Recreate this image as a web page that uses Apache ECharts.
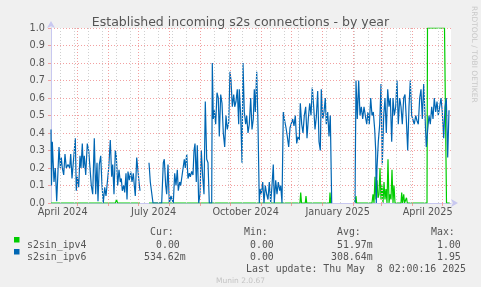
<!DOCTYPE html>
<html>
<head>
<meta charset="utf-8">
<script src="https://cdn.jsdelivr.net/npm/echarts@6/dist/echarts.min.js"></script>
<style>
  html, body { margin: 0; padding: 0; background: #f0f0f0; }
  #chart { width: 481px; height: 287px; }
</style>
</head>
<body>
<div id="chart"></div>
<script>
// x values are days counted from the left edge of the plot (Apr 4 2024 08:00)
const startMs = Date.UTC(2024, 3, 4, 8)
const dayOf = (y, m, d) => (Date.UTC(y, m - 1, d) - startMs) / 864e5

const xLabels = ['April 2024', 'July 2024', 'October 2024', 'January 2025', 'April 2025']
const xLabelDates = [[2024, 4, 16], [2024, 7, 16], [2024, 10, 16], [2025, 1, 16], [2025, 4, 16]]
const monthStarts = [[2024, 5, 1], [2024, 6, 1], [2024, 7, 1], [2024, 8, 1], [2024, 9, 1], [2024, 10, 1],
  [2024, 11, 1], [2024, 12, 1], [2025, 1, 1], [2025, 2, 1], [2025, 3, 1], [2025, 4, 1], [2025, 5, 1]]

// s2sin_ipv4 [day, value]
const ipv4Data = [
  [0, 0], [64.5, 0], [65.5, 0.02], [66.5, 0], [89, 0], [93, null], [98, 0],
  [249, 0], [249.7, 0.06], [250.5, 0], [254.3, 0], [255, 0.04], [255.7, 0],
  [278.5, 0], [279, 0.06], [279.7, 0], [280.7, 0], [292, null], [304, 0], [305, 0.04], [305.6, 0],
  [321, 0], [322, 0.05], [323, 0], [324, 0.15], [325, 0.02], [326, 0.13], [327, 0.03], [328, 0.05],
  [329, 0.2], [330, 0.02], [331, 0.1], [332, 0], [333, 0.12], [334, 0.02], [335, 0.08], [336, 0],
  [337, 0.25], [338, 0], [339, 0.05], [340, 0.02], [341, 0.19], [342, 0], [343, 0.1], [344, 0],
  [350, 0], [350.7, 0.06], [351.5, 0], [352.7, 0.05], [353.5, 0], [355.5, 0.03], [356.3, 0],
  [376, 0], [376.5, 1.0], [393.5, 1.0], [395.5, 0], [398.7, 0]
]

// s2sin_ipv6 [day, value]
const ipv6Data = [
  [0, 0.42], [0.5, 0.1], [1.3, 0.35], [2.3, 0.35], [3, 0.12], [4.3, 0.2], [5.7, 0.01], [8, 0.32],
  [9.3, 0.2], [10.3, 0.26], [11.3, 0.2], [12.7, 0.16], [14, 0.28], [15.3, 0.2], [17, 0.22], [18.7, 0.2],
  [19.7, 0.28], [21, 0.14], [24.3, 0.37], [25.3, 0.07], [26.3, 0.15], [27.7, 0.09], [29, 0.27], [30, 0.2],
  [31.3, 0.34], [32.3, 0.2], [33.3, 0.27], [34.7, 0.16], [36.3, 0.34], [37.7, 0.3], [39, 0.2], [40.3, 0.1],
  [41.7, 0.05], [43.3, 0.37], [44.7, 0.05], [46, 0.23], [47, 0.01], [48.3, 0.22], [49.7, 0.27], [51, 0.1],
  [52.3, 0], [53.7, 0.09], [55, 0.04], [56.3, 0.03], [57.7, 0.2], [59.3, 0.36], [60.7, 0.15], [61.7, 0.22],
  [63, 0.05], [64.3, 0.3], [65.3, 0.27], [66.7, 0.1], [68, 0.19], [69.3, 0.12], [70.3, 0.14], [71.3, 0.07],
  [72.7, 0.1], [73.7, 0.06], [75, 0.17], [76, 0.02], [77, 0.18], [78.3, 0.13], [79.7, 0.18], [81, 0.12],
  [82.3, 0.17], [83.3, 0.1], [84.3, 0.04], [85.7, 0.26], [86.7, 0.26], [88, 0.12], [89, 0.07], [93, null],
  [98, 0.23], [99.3, 0.12], [100.7, 0.12], [102, 0], [110.7, 0], [112.3, 0.23], [113.3, 0.25], [114.7, 0.1],
  [115.7, 0.05], [117, 0.22], [118.3, 0], [120, 0.04], [121.3, 0.03], [122.3, 0], [123.7, 0.17], [125, 0.1],
  [126.3, 0.19], [127.3, 0.07], [128.7, 0.12], [129.7, 0.1], [133.3, 0.25], [134.3, 0.2], [135.7, 0.28],
  [137, 0.14], [138.3, 0.17], [139.3, 0.15], [140.7, 0.18], [142, 0.16], [143, 0.3], [144, 0.34],
  [145.3, 0.12], [146.3, 0.33], [147.7, 0], [149, 0.05], [150.3, 0.3], [151.7, 0.15], [153, 0.05],
  [154.3, 0.58], [155.7, 0.25], [157, 0.23], [158.3, 0], [160.7, 0], [161.3, 0.8], [162.3, 0.48],
  [163.3, 0.53], [164.7, 0.45], [166, 0.63], [167.3, 0.6], [168.3, 0.38], [169.7, 0.62], [171, 0.57],
  [172.3, 0.4], [173.7, 0.32], [175, 0.5], [176.3, 0.42], [177.7, 0.46], [179, 0.75], [180, 0.7],
  [181.3, 0.55], [182.7, 0.62], [183.7, 0.55], [185, 0.58], [186.3, 0.65], [187.7, 0.45], [188.3, 0.65],
  [189.7, 0.5], [191, 0.23], [192, 0.8], [193.3, 0.52], [194.7, 0.45], [195.7, 0.5], [197, 0.4],
  [198.3, 0.45], [199.7, 0.6], [201, 0.42], [202.3, 0.48], [203.3, 0.65], [204.3, 0.52], [205.7, 0.75],
  [207, 0.45], [208.3, 0], [209, 0.08], [210.3, 0.05], [211.7, 0.12], [213, 0], [214.3, 0.1], [215.7, 0.05],
  [217, 0.02], [218.3, 0.12], [219.7, 0], [221, 0.1], [222.3, 0.22], [223.3, 0], [224.7, 0.13], [226, 0.05],
  [227.3, 0.12], [228.7, 0.07], [229.7, 0.1], [231, 0], [232.3, 0.52], [233.7, 0.47], [235, 0.43],
  [236.3, 0.38], [237.7, 0.32], [239, 0.43], [240.3, 0.44], [241.7, 0.48], [243, 0.44], [244.3, 0.5],
  [245.7, 0.34], [247, 0.38], [248.3, 0.36], [249.3, 0.57], [250.7, 0.45], [252, 0.4], [253.3, 0.5],
  [254.7, 0.55], [256, 0.37], [257.3, 0.48], [258.7, 0.57], [260, 0.5], [261.3, 0.66], [262.7, 0.55],
  [264, 0.42], [265.3, 0.49], [266.7, 0.64], [268, 0.35], [269.3, 0.3], [270.3, 0.65], [271.7, 0.48],
  [273, 0.52], [274.3, 0.6], [275.3, 0.45], [276.7, 0.52], [278, 0.38], [279.3, 0.5], [280.7, 0],
  [292, null], [304, 0], [305, 0.7], [306.3, 0.48], [307.7, 0.7], [309, 0.5], [310.3, 0.55], [311.7, 0.48],
  [313, 0.55], [314.3, 0.5], [315.7, 0.45], [317, 0.52], [318.3, 0.45], [319.7, 0.6], [321, 0.5],
  [322.3, 0.52], [323.7, 0.42], [324.7, 0.3], [325.3, 0], [326, 0.2], [327.3, 0.35], [328.7, 0.45],
  [330, 0.68], [331.3, 0.22], [332.7, 0.5], [334, 0.6], [335.3, 0.4], [336.7, 0.65], [338, 0.55],
  [339.3, 0.6], [340.7, 0.35], [342, 0.6], [343.3, 0.5], [344.7, 0.55], [346, 0.7], [347.3, 0.45],
  [348.7, 0.6], [350, 0.55], [351.3, 0.45], [352.7, 0.6], [354, 0.62], [355.3, 0.48], [356.7, 0.3],
  [358, 0.55], [359.3, 0.7], [360.7, 0.5], [362, 0.5], [363.3, 0.45], [364.7, 0.5], [366, 0.47],
  [367.3, 0.45], [368.7, 0.6], [370, 0.65], [371.3, 0.48], [372.7, 0.68], [374, 0.5], [375.3, 0.32],
  [376.7, 0.42], [378, 0.5], [379.3, 0.45], [380.7, 0.55], [382, 0.48], [383.3, 0.6], [384.7, 0.52],
  [386, 0.58], [387.3, 0.5], [388.7, 0.55], [390, 0.6], [391.3, 0.52], [392.7, 0.37], [394, 0.55],
  [395.3, 0.6], [396.7, 0.26], [398, 0.53]
]

// legend table
const legendNames = ['s2sin_ipv4', 's2sin_ipv6']
const legendColors = ['#00cc00', '#0066b3']
const curVals = ['0.00', '534.62m']
const minVals = ['0.00', '0.00']
const avgVals = ['51.97m', '308.64m']
const maxVals = ['1.00', '1.95']

const chart = echarts.init(document.getElementById('chart'))

const labelDays = xLabelDates.map(d => dayOf(...d))
const monthDays = monthStarts.map(d => dayOf(...d))
const weekDays = []
for (let d = dayOf(2024, 3, 31) + 14; d < 400; d += 14) weekDays.push(d)

const redGrid = '#f2a0a0'
const greyGrid = '#d0d0d0'
const mono = 'DejaVu Sans Mono'
const charW = 6

const vLines = [
  ...weekDays.map(d => ({ xAxis: d, lineStyle: { color: greyGrid, type: [1, 2], width: 1 } })),
  ...monthDays.map(d => ({ xAxis: d, lineStyle: { color: redGrid, type: [1, 2], width: 1 } }))
]

const txt = (x, y, s, color, font, size) => ({
  type: 'text', left: x, top: y,
  style: { text: s, fill: color, font: size + 'px "' + font + '"', textVerticalAlign: 'middle' }
})

// rrdtool prints "%6.2lf%s": a unit letter or a blank in the last column
const numAt = (colEnd, s) => colEnd - (s.endsWith('m') ? s.length : s.length + 1) * charW

const graphics = []
graphics.push(txt(150, 227, 'Cur:', '#555', mono, 9.9))
graphics.push(txt(244, 227, 'Min:', '#555', mono, 9.9))
graphics.push(txt(337, 227, 'Avg:', '#555', mono, 9.9))
graphics.push(txt(431, 227, 'Max:', '#555', mono, 9.9))
legendNames.forEach((name, i) => {
  const y = 240 + i * 12
  graphics.push({ type: 'rect', shape: { x: 14, y: y - 3, width: 5.5, height: 5.5 }, style: { fill: legendColors[i] } })
  graphics.push(txt(27, y, name, '#555', mono, 9.9))
  graphics.push(txt(numAt(186, curVals[i]), y, curVals[i], '#555', mono, 9.9))
  graphics.push(txt(numAt(280, minVals[i]), y, minVals[i], '#555', mono, 9.9))
  graphics.push(txt(numAt(373, avgVals[i]), y, avgVals[i], '#555', mono, 9.9))
  graphics.push(txt(numAt(467, maxVals[i]), y, maxVals[i], '#555', mono, 9.9))
})
graphics.push(txt(246, 264, 'Last update: Thu May  8 02:00:16 2025', '#555', mono, 9.9))
graphics.push(txt(216, 277, 'Munin 2.0.67', '#c4c4c4', 'DejaVu Sans', 7.5))
graphics.push({
  type: 'text', x: 474, y: 6, rotation: -Math.PI / 2,
  style: { text: 'RRDTOOL / TOBI OETIKER', fill: '#c8c8c8', font: '7.5px "DejaVu Sans"', textVerticalAlign: 'middle' }
})

const option = {
  animation: false,
  backgroundColor: '#f0f0f0',
  title: {
    text: 'Established incoming s2s connections - by year',
    left: 'center',
    top: 11,
    textStyle: { fontFamily: 'DejaVu Sans', fontSize: 12.5, fontWeight: 'normal', color: '#555' }
  },
  grid: {
    left: 51, top: 28, width: 400, height: 175,
    show: true, backgroundColor: '#fff', borderWidth: 0
  },
  xAxis: {
    type: 'value',
    min: 0,
    max: 400,
    axisLine: {
      show: true, onZero: false,
      lineStyle: { color: '#c8c8f0', width: 1 },
      symbol: ['none', 'arrow'], symbolSize: [6, 7], symbolOffset: [0, 7]
    },
    axisTick: { show: true, customValues: monthDays, length: 3, lineStyle: { color: redGrid } },
    axisLabel: {
      customValues: labelDays,
      formatter: v => {
        let best = 0
        labelDays.forEach((d, i) => { if (Math.abs(d - v) < Math.abs(labelDays[best] - v)) best = i })
        return xLabels[best]
      },
      color: '#555', fontFamily: 'DejaVu Sans', fontSize: 9.7, margin: 4
    },
    splitLine: { show: false }
  },
  yAxis: {
    type: 'value',
    min: 0,
    max: 1,
    interval: 0.1,
    axisLine: {
      show: true,
      lineStyle: { color: '#c8c8f0', width: 1 },
      symbol: ['none', 'arrow'], symbolSize: [6, 7], symbolOffset: [0, 7]
    },
    axisTick: { show: true, length: 3, lineStyle: { color: redGrid } },
    axisLabel: {
      formatter: v => v.toFixed(1),
      color: '#555', fontFamily: 'DejaVu Sans', fontSize: 9.7, margin: 6
    },
    splitLine: { show: true, lineStyle: { color: redGrid, type: [1, 2], width: 1 } }
  },
  graphic: graphics,
  series: [
    {
      name: 'grid',
      type: 'line',
      data: [],
      z: 1,
      silent: true,
      markLine: { silent: true, symbol: ['none', 'none'], label: { show: false }, data: vLines, animation: false }
    },
    {
      name: 's2sin_ipv4',
      type: 'line',
      data: ipv4Data,
      z: 3,
      showSymbol: false,
      connectNulls: false,
      lineStyle: { color: '#00cc00', width: 1.2 },
      itemStyle: { color: '#00cc00' }
    },
    {
      name: 's2sin_ipv6',
      type: 'line',
      data: ipv6Data,
      z: 4,
      showSymbol: false,
      connectNulls: false,
      lineStyle: { color: '#0066b3', width: 1.2 },
      itemStyle: { color: '#0066b3' }
    }
  ]
}

chart.setOption(option)
</script>
</body>
</html>
